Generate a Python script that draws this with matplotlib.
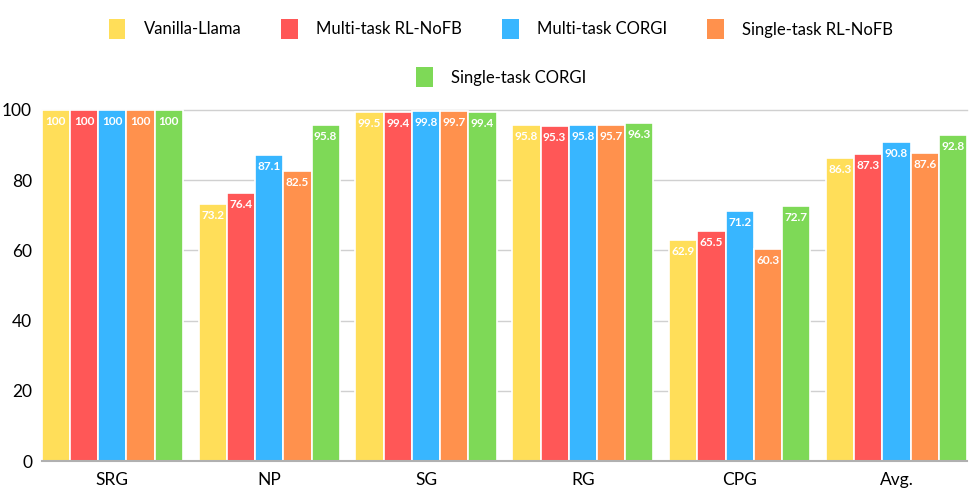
import numpy as np
import matplotlib
matplotlib.use('Agg')
import matplotlib.pyplot as plt
from matplotlib.patches import Patch

plt.rcParams['font.family'] = ['Lato', 'DejaVu Sans']

categories = ['SRG', 'NP', 'SG', 'RG', 'CPG', 'Avg.']
series_names = ['Vanilla-Llama', 'Multi-task RL-NoFB', 'Multi-task CORGI',
                'Single-task RL-NoFB', 'Single-task CORGI']
vanilla = [100, 73.2, 99.5, 95.8, 62.9, 86.3]
multi_nofb = [100, 76.4, 99.4, 95.3, 65.5, 87.3]
multi_corgi = [100, 87.1, 99.8, 95.8, 71.2, 90.8]
single_nofb = [100, 82.5, 99.7, 95.7, 60.3, 87.6]
single_corgi = [100, 95.8, 99.4, 96.3, 72.7, 92.8]
colors = ['#FFDE59', '#FF5757', '#38B6FF', '#FF914D', '#7ED957']

all_series = [vanilla, multi_nofb, multi_corgi, single_nofb, single_corgi]

fig = plt.figure(figsize=(9.71, 4.88), dpi=100)
ax = fig.add_axes([0.043, 0.0553, 0.953, 0.7197])

x = np.arange(len(categories))
w = 0.18
for i, (vals, c) in enumerate(zip(all_series, colors)):
    pos = x - 0.36 + i * w
    ax.bar(pos, vals, width=w, color=c, edgecolor='white', linewidth=1.2,
           zorder=3, clip_on=False)
    for p, v in zip(pos, vals):
        label = f'{v:g}'
        ax.text(p, v - 3.3, label, ha='center', va='center', color='white',
                fontsize=8.5, fontweight='bold', zorder=4)

ax.set_xlim(-0.45, len(categories) - 0.55)
ax.set_ylim(0, 100)
ax.set_yticks(range(0, 101, 20))
ax.set_xticks(x)
ax.set_xticklabels(categories, fontsize=12.5)
ax.tick_params(axis='y', labelsize=12.5, length=0, pad=7)
ax.tick_params(axis='x', length=0, pad=8)
ax.grid(axis='y', color='#d0d0d0', linewidth=1, zorder=0)
ax.yaxis.get_gridlines()[-1].set_clip_on(False)
for s in ['top', 'right', 'left']:
    ax.spines[s].set_visible(False)
ax.spines['bottom'].set_color('#b0b0b0')
ax.spines['bottom'].set_linewidth(1.5)
ax.spines['bottom'].set_zorder(5)

handles = [Patch(facecolor=c, edgecolor='none') for c in colors]
leg_kw = dict(frameon=False, fontsize=12, handlelength=1.0, handleheight=1.5,
              handletextpad=1.1, columnspacing=2.4)
fig.legend(handles[:4], series_names[:4], loc='center', ncol=4,
           bbox_to_anchor=(0.516, 1 - 29 / 488), **leg_kw)
fig.legend(handles[4:], series_names[4:], loc='center', ncol=1,
           bbox_to_anchor=(0.516, 1 - 77 / 488), **leg_kw)

fig.savefig('out.png', dpi=100)
